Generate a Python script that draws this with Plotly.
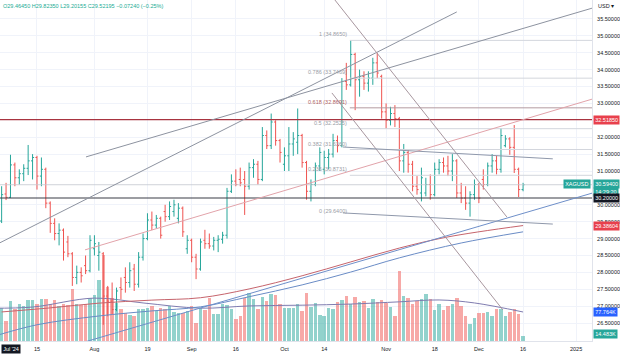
import plotly.graph_objects as go
import pandas as pd

# ---------------- data ----------------
dates = pd.bdate_range("2024-07-01", "2024-12-16")

opens = [29.15, 29.4645, 29.52, 30.32, 30.22, 31.18, 30.80, 30.92, 31.08, 31.30,
         31.40, 30.85, 31.05, 30.05, 29.45, 29.15, 29.25, 28.90, 28.55, 27.85,
         28.00, 28.20, 28.05, 28.70, 28.50, 28.55, 27.30, 27.15, 26.90, 27.55,
         27.85, 27.70, 28.10, 27.65, 28.45, 29.00, 29.55, 29.40, 29.60, 29.80,
         29.65, 29.80, 29.60, 29.90, 28.70, 28.95, 28.45, 28.10, 28.95, 28.85,
         28.78, 28.95, 28.98, 29.10, 30.40, 30.70, 30.75, 30.75, 30.55, 31.10,
         31.20, 30.75, 32.05, 31.75, 32.45, 31.90, 31.20, 31.45, 31.80, 31.85,
         32.05, 31.25, 30.40, 30.60, 31.15, 31.05, 31.40, 31.50, 31.90, 31.75,
         33.65, 33.55, 34.45, 33.70, 33.80, 33.60, 33.75, 34.20, 33.80, 32.75,
         32.50, 32.70, 32.55, 31.30, 31.55, 31.20, 30.55, 30.35, 30.35, 30.60,
         30.30, 31.05, 31.25, 31.15, 31.00, 31.30, 30.35, 30.20, 30.05, 30.30,
         30.60, 30.75, 30.60, 31.15, 31.30, 31.05, 31.75, 31.95, 31.70, 31.05,
         30.45]
highs = [29.70, 29.8235, 30.55, 30.65, 31.48, 31.25, 31.05, 31.20, 31.77, 31.50,
         31.45, 31.40, 31.10, 30.10, 29.60, 29.45, 29.30, 29.08, 28.60, 28.20,
         28.15, 28.50, 29.10, 29.10, 28.90, 28.60, 27.60, 27.70, 27.55, 27.85,
         28.15, 28.30, 28.25, 28.60, 29.15, 29.75, 29.80, 29.70, 29.65, 30.00,
         30.10, 30.15, 30.05, 29.95, 29.10, 29.00, 28.55, 29.00, 29.26, 29.15,
         29.05, 29.10, 29.20, 30.50, 30.90, 31.05, 31.10, 31.00, 31.25, 31.35,
         31.30, 32.30, 32.20, 32.70, 32.50, 31.95, 31.70, 32.30, 32.15, 32.85,
         32.10, 31.30, 30.75, 31.25, 31.70, 31.60, 31.65, 32.10, 32.05, 33.75,
         34.20, 34.87, 34.50, 34.00, 33.95, 33.95, 34.35, 34.50, 33.85, 33.00,
         32.90, 32.95, 32.60, 31.80, 31.65, 31.30, 30.85, 31.10, 30.80, 30.90,
         31.25, 31.35, 31.40, 31.45, 31.50, 31.35, 30.65, 30.55, 30.40, 30.75,
         30.65, 31.05, 31.25, 31.50, 31.45, 32.27, 32.06, 32.00, 32.36, 31.10,
         30.65]
lows = [29.05, 29.20155, 29.46, 30.14, 30.20, 30.55, 30.60, 30.70, 30.88, 30.75,
        30.45, 30.55, 29.90, 29.17, 28.95, 28.80, 28.35, 28.45, 27.60, 27.65,
        27.70, 27.95, 28.00, 28.50, 28.05, 26.45, 26.70, 26.75, 26.85, 27.20,
        27.40, 27.55, 27.45, 27.55, 28.35, 28.95, 29.25, 29.30, 29.00, 29.50,
        29.55, 29.65, 29.45, 29.05, 28.55, 28.30, 27.80, 28.05, 28.70, 28.70,
        28.65, 28.60, 28.85, 29.00, 30.35, 30.55, 30.55, 29.70, 30.45, 30.80,
        30.60, 30.70, 31.65, 31.65, 31.75, 31.25, 31.00, 31.00, 31.45, 31.50,
        31.10, 30.15, 30.10, 30.55, 31.00, 30.90, 31.05, 31.40, 31.55, 31.70,
        33.40, 33.50, 32.80, 33.20, 33.40, 33.35, 33.55, 33.75, 32.55, 32.25,
        32.35, 32.30, 31.00, 30.95, 30.95, 30.40, 30.30, 30.10, 30.25, 30.15,
        30.25, 30.90, 30.95, 30.85, 30.70, 30.20, 30.05, 29.85, 29.65, 30.15,
        30.05, 30.45, 30.55, 30.95, 30.90, 30.95, 31.70, 31.48, 30.94, 30.23,
        30.40]
closes = [29.594, 29.52195, 30.30, 30.22, 31.18, 30.80, 30.92, 31.08, 31.30, 31.40,
          30.85, 31.05, 30.05, 29.45, 29.15, 29.25, 28.60, 28.55, 27.85, 28.00,
          27.90, 28.05, 28.95, 28.85, 28.60, 27.30, 27.15, 26.90, 27.45, 27.50,
          27.70, 28.05, 27.65, 28.45, 29.00, 29.55, 29.40, 29.60, 29.10, 29.65,
          29.95, 30.00, 29.90, 29.20, 28.95, 28.45, 28.10, 28.90, 28.85, 28.78,
          28.95, 28.98, 29.10, 30.40, 30.70, 30.60, 30.65, 30.55, 31.10, 31.20,
          30.75, 32.05, 31.75, 32.45, 31.90, 31.55, 31.45, 31.80, 31.95, 32.05,
          31.25, 30.40, 30.60, 31.15, 31.55, 31.40, 31.50, 31.90, 31.75, 33.65,
          33.55, 34.45, 33.70, 33.80, 33.60, 33.75, 34.20, 33.90, 32.75, 32.50,
          32.70, 32.55, 31.30, 31.55, 31.20, 30.55, 30.45, 30.80, 30.60, 30.30,
          31.05, 31.25, 31.15, 31.00, 31.30, 30.35, 30.20, 30.05, 30.30, 30.60,
          30.20, 30.60, 31.15, 31.30, 31.05, 32.05, 31.95, 31.70, 31.05, 30.45,
          30.594]
volumes_k = [100, 90, 88, 54, 107, 86, 99, 94, 110, 110,
             99, 113, 113, 99, 110, 94, 99, 96, 139, 99,
             96, 99, 115, 123, 163, 230, 145, 115, 102, 86,
             75, 70, 67, 86, 86, 88, 94, 80, 88, 86,
             94, 78, 75, 75, 80, 94, 48, 88, 83, 115,
             72, 73, 99, 96, 86, 59, 67, 115, 129, 113,
             86, 118, 107, 126, 123, 99, 88, 88, 88, 99,
             80, 129, 91, 102, 70, 67, 88, 86, 104, 110,
             121, 99, 118, 104, 107, 88, 113, 104, 110, 102,
             91, 67, 188, 121, 115, 99, 107, 113, 126, 113,
             83, 99, 83, 94, 99, 115, 94, 67, 46, 62,
             75, 75, 78, 67, 86, 86, 67, 78, 86, 72,
             14.483]

# time axis ticks
tick_dates = ["2024-07-15", "2024-08-01", "2024-08-19", "2024-09-02", "2024-09-16",
              "2024-10-01", "2024-10-14", "2024-11-01", "2024-11-18", "2024-12-02",
              "2024-12-16", "2025-01-01"]
tick_labels = ["15", "Aug", "19", "Sep", "16", "Oct", "14", "Nov", "18", "Dec", "16", "2025"]
# price scale labels that are not hidden behind the coloured value boxes
price_ticks = [26.5, 27.0, 27.5, 28.0, 28.5, 29.0, 29.5, 30.0, 31.0, 31.5,
               32.0, 33.0, 33.5, 34.0, 34.5, 35.0, 35.5]

# moving averages (read at sample bars)
ma_red_bar = [2, 13, 24, 36, 47, 58, 70, 81, 92, 103, 120]
ma_red_val = [26.83, 26.95, 27.09, 27.18, 27.25, 27.51, 27.90, 28.31, 28.72, 29.05, 29.38604]
ma_blue_bar = [0, 10, 24, 36, 47, 58, 70, 81, 92, 106, 120]
ma_blue_val = [26.10, 26.45, 26.71, 26.86, 26.98, 27.28, 27.63, 28.01, 28.43, 28.87, 29.20]
vol_ma_bar = [0, 9, 23, 34, 47, 58, 70, 81, 92, 101, 109, 120]
vol_ma_val = [88, 91, 115, 102, 88, 94, 96, 99, 105, 110, 102, 77.764]

# drawings: trend lines (bar position, price)
trend_x0 = [21.09, 0.0, 20.86, 20.86, 75.0, 76.74, 79.23, 79.23]
trend_p0 = [31.417, 28.77, 28.666, 25.944, 36.46, 33.31, 31.71, 29.76]
trend_x1 = [135.79, 105.0, 135.79, 135.79, 116.33, 115.43, 126.73, 126.73]
trend_p1 = [35.825, 35.707, 33.133, 30.352, 29.64, 26.89, 31.36, 29.43]
trend_col = ["#8d93a0", "#8d93a0", "#e2a3aa", "#6e8fc9", "#a8979f", "#a8979f", "#8f98ab", "#8f98ab"]

# fibonacci retracement
fib_ratio = ["1", "0.786", "0.618", "0.5", "0.382", "0.236", "0"]
fib_price = [34.8650, 33.7469, 32.8691, 32.2525, 31.6360, 30.8731, 29.6400]
fib_x0 = 80.8
fib_x1 = 136.0

# horizontal levels
level_red = 32.5185
level_black = 30.20
last_price = 30.594

# ---------------- figure ----------------
all_days = pd.bdate_range("2024-07-01", "2025-01-15")
pos = {d.strftime("%Y-%m-%d"): i for i, d in enumerate(all_days)}
xb = [pos[d.strftime("%Y-%m-%d")] for d in dates]
tickvals = [pos[d] for d in tick_dates]

UP = "#26a69a"
DN = "#ef5350"
FONT = "Liberation Sans, Arial, sans-serif"

fig = go.Figure()

vol_colors = ["rgba(38,166,154,0.5)" if c >= o else "rgba(239,83,80,0.5)"
              for o, c in zip(opens, closes)]
fig.add_trace(go.Bar(x=xb, y=volumes_k, marker=dict(color=vol_colors, line=dict(width=0)),
                     width=0.78, xaxis="x", yaxis="y", showlegend=False))
fig.add_trace(go.Scatter(x=vol_ma_bar, y=vol_ma_val, mode="lines",
                         line=dict(color="#7f7cb0", width=1, shape="spline"),
                         xaxis="x", yaxis="y", showlegend=False))

fig.add_trace(go.Ohlc(x=xb, open=opens, high=highs, low=lows, close=closes,
                      increasing=dict(line=dict(color=UP, width=1)),
                      decreasing=dict(line=dict(color=DN, width=1)),
                      tickwidth=0.35, xaxis="x", yaxis="y2", showlegend=False))

fig.add_trace(go.Scatter(x=ma_blue_bar, y=ma_blue_val, mode="lines",
                         line=dict(color="#6a8cc6", width=1, shape="spline"),
                         xaxis="x", yaxis="y2", showlegend=False))
fig.add_trace(go.Scatter(x=ma_red_bar, y=ma_red_val, mode="lines",
                         line=dict(color="#c6646c", width=1, shape="spline"),
                         xaxis="x", yaxis="y2", showlegend=False))

# horizontal lines
fig.add_trace(go.Scatter(x=[0, 140], y=[last_price, last_price], mode="lines",
                         line=dict(color="#c4c7ce", width=0.8),
                         xaxis="x", yaxis="y2", showlegend=False))
fig.add_trace(go.Scatter(x=[0, 140], y=[level_red, level_red], mode="lines",
                         line=dict(color="#a83440", width=1.2),
                         xaxis="x", yaxis="y2", showlegend=False))
fig.add_trace(go.Scatter(x=[0, 140], y=[level_black, level_black], mode="lines",
                         line=dict(color="#3a3d47", width=1.1),
                         xaxis="x", yaxis="y2", showlegend=False))

# fib lines
for r, p in zip(fib_ratio, fib_price):
    if r == "0":
        continue
    col = "#b39aa0" if r == "0.618" else "#d3d6dd"
    fig.add_trace(go.Scatter(x=[fib_x0, fib_x1], y=[p, p], mode="lines",
                             line=dict(color=col, width=1),
                             xaxis="x", yaxis="y2", showlegend=False))

# trend lines
for x0, p0, x1, p1, c in zip(trend_x0, trend_p0, trend_x1, trend_p1, trend_col):
    fig.add_trace(go.Scatter(x=[x0, x1], y=[p0, p1], mode="lines",
                             line=dict(color=c, width=1),
                             xaxis="x", yaxis="y2", showlegend=False))

ann = []
# fib labels
for r, p in zip(fib_ratio, fib_price):
    col = "#b0625f" if r == "0.618" else "#9a9da6"
    ann.append(dict(x=fib_x0 - 0.3, y=p, xref="x", yref="y2", xanchor="right", yanchor="bottom",
                    text=f"{r} ({p:.4f})", showarrow=False, yshift=1,
                    font=dict(size=5.5, color=col, family=FONT)))

def axis_box(y, text, bg, yref="y2", yshift=0):
    return dict(x=1, y=y, xref="paper", yref=yref, xanchor="left", yanchor="middle",
                text=text, showarrow=False, xshift=1, yshift=yshift, bgcolor=bg, borderpad=1.2,
                font=dict(size=5.5, color="white", family=FONT))

ann.append(axis_box(level_red, "32.51850", "#e8404c"))
ann.append(axis_box(last_price, "30.59400", UP, yshift=1))
ann.append(axis_box(last_price, "14:29:20", UP, yshift=-7))
ann.append(axis_box(level_black, "30.20000", "#131722"))
ann.append(axis_box(ma_red_val[-1], "29.38604", "#e8404c"))
ann.append(axis_box(vol_ma_val[-1], "77.764K", "#2962ff", yref="y"))
ann.append(axis_box(volumes_k[-1], "14.483K", UP, yref="y", yshift=2))
ann.append(dict(x=1, y=last_price, xref="paper", yref="y2", xanchor="right", yanchor="middle",
                text="XAGUSD", showarrow=False, xshift=-1, yshift=1, bgcolor=UP, borderpad=1.2,
                font=dict(size=5.5, color="white", family=FONT)))
# header
ann.append(dict(x=0.002, y=1, xref="paper", yref="paper", xanchor="left", yanchor="top",
                text="O29.46450 H29.82350 L29.20155 C29.52195 −0.07240 (−0.25%)",
                showarrow=False, yshift=-1,
                font=dict(size=5.5, color="#22ab94", family=FONT)))
ann.append(dict(x=1, y=1, xref="paper", yref="paper", xanchor="left", yanchor="top",
                text="USD ▾", showarrow=False, xshift=4, yshift=-1,
                font=dict(size=5.5, color="#131722", family=FONT)))
# crosshair time label at the left edge
ann.append(dict(x=0, y=0, xref="paper", yref="paper", xanchor="left", yanchor="top",
                text="Jul '24", showarrow=False, xshift=1, yshift=-3, bgcolor="#131722",
                borderpad=1.2, font=dict(size=5.5, color="white", family=FONT)))

fig.update_layout(
    width=620, height=356, autosize=False,
    margin=dict(l=0, r=28, t=0, b=15, pad=0),
    paper_bgcolor="white", plot_bgcolor="white",
    font=dict(family=FONT, size=5.5, color="#131722"),
    bargap=0, showlegend=False, annotations=ann,
    xaxis=dict(range=[1.63, 135.6], tickmode="array", tickvals=tickvals, ticktext=tick_labels,
               showgrid=True, gridcolor="#f0f3fa", gridwidth=1, zeroline=False,
               showline=True, linecolor="#e0e3eb", ticks="", tickfont=dict(size=5.5, color="#131722"),
               rangeslider=dict(visible=False), automargin=False, ticklabelstandoff=2),
    yaxis=dict(range=[0, 914], visible=False, fixedrange=True),
    yaxis2=dict(overlaying="y", side="right", range=[25.97, 36.06], tickmode="array",
                tickvals=price_ticks, tickformat=".5f", showgrid=True, gridcolor="#f0f3fa",
                zeroline=False, showline=True, linecolor="#e0e3eb", ticks="",
                tickfont=dict(size=5.5, color="#131722"), automargin=False, ticklabelstandoff=3),
)

fig.write_html("out.html", config={"displayModeBar": False},
               post_script="document.body.style.margin='0px';document.body.style.overflow='hidden';")
